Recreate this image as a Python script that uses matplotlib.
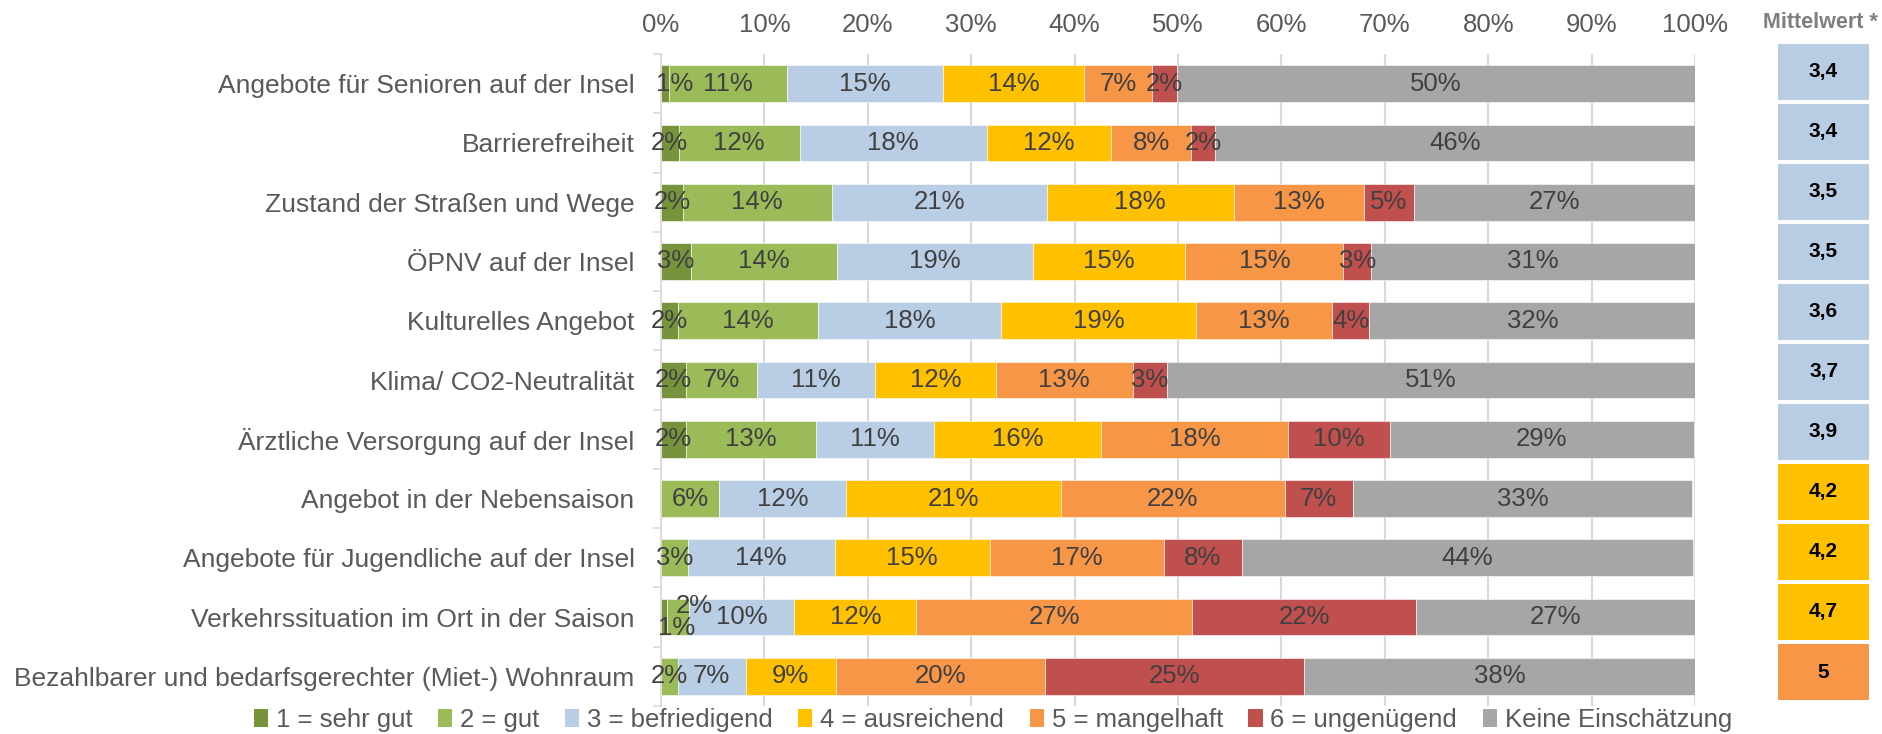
import numpy as np
from matplotlib import pyplot as plt
from matplotlib.patches import Patch

plt.rcParams['font.family'] = ['Liberation Sans', 'DejaVu Sans']

categories = [
    'Angebote für Senioren auf der Insel',
    'Barrierefreiheit',
    'Zustand der Straßen und Wege',
    'ÖPNV auf der Insel',
    'Kulturelles Angebot',
    'Klima/ CO2-Neutralität',
    'Ärztliche Versorgung auf der Insel',
    'Angebot in der Nebensaison',
    'Angebote für Jugendliche auf der Insel',
    'Verkehrssituation im Ort in der Saison',
    'Bezahlbarer und bedarfsgerechter (Miet-) Wohnraum',
]
series_names = ['1 = sehr gut', '2 = gut', '3 = befriedigend', '4 = ausreichend',
                '5 = mangelhaft', '6 = ungenügend', 'Keine Einschätzung']

# values in percent
sehr_gut     = [0.8, 1.7, 2.1, 2.9, 1.6, 2.4, 2.4, 0.0, 0.0, 0.6, 0.0]
gut          = [11.4, 11.7, 14.4, 14.1, 13.6, 6.9, 12.6, 5.6, 2.6, 2.1, 1.6]
befriedigend = [15.1, 18.1, 20.8, 19.0, 17.7, 11.4, 11.4, 12.3, 14.2, 10.2, 6.6]
ausreichend  = [13.6, 12.0, 18.1, 14.7, 18.8, 11.7, 16.2, 20.8, 15.0, 11.8, 8.7]
mangelhaft   = [6.6, 7.8, 12.6, 15.3, 13.2, 13.2, 18.0, 21.6, 16.8, 26.7, 20.2]
ungenuegend  = [2.4, 2.3, 4.8, 2.7, 3.6, 3.3, 9.9, 6.6, 7.6, 21.6, 25.1]
keine        = [50.1, 46.4, 27.2, 31.3, 31.6, 51.1, 29.4, 32.8, 43.6, 27.0, 37.9]

mittelwert = [3.4, 3.4, 3.5, 3.5, 3.6, 3.7, 3.9, 4.2, 4.2, 4.7, 5.0]

colors = ['#77933C', '#9BBB59', '#B9CDE5', '#FFC000', '#F79646', '#C0504D', '#A6A6A6']

W, H = 1883, 734
fig = plt.figure(figsize=(W / 100, H / 100), dpi=100)

ax = fig.add_axes([661 / W, 1 - 706 / H, (1695 - 661) / W, (706 - 54) / H])
series = [sehr_gut, gut, befriedigend, ausreichend, mangelhaft, ungenuegend, keine]
n = len(categories)
y = np.arange(n)
left = np.zeros(n)
for k, vals in enumerate(series):
    vals = np.array(vals)
    ax.barh(y, vals, left=left, height=0.62, color=colors[k], edgecolor='white',
            linewidth=0.4, zorder=2)
    for i in range(n):
        if vals[i] <= 0:
            continue
        dx, dy = 0, 0
        # Excel nudged a few tiny labels
        if i == 0 and k == 0:
            dx = 7
        if i == 9 and k == 0:
            dx, dy = 9, -8
        if i == 9 and k == 1:
            dx, dy = 12, 8
        ax.annotate('%.0f%%' % vals[i], (left[i] + vals[i] / 2, y[i]),
                    xytext=(dx, dy), textcoords='offset points',
                    ha='center', va='center', fontsize=18.5, color='#404040', zorder=3)
    left += vals

ax.set_xlim(0, 100)
ax.set_ylim(n - 0.5, -0.5)
ax.xaxis.tick_top()
ax.set_xticks(np.arange(0, 101, 10))
ax.set_xticklabels([f'{v}%' for v in range(0, 101, 10)])
ax.tick_params(axis='x', length=0, pad=12, labelsize=18.5, labelcolor='#595959')
ax.set_yticks(y)
ax.set_yticklabels(categories)
ax.tick_params(axis='y', length=0, pad=19, labelsize=19, labelcolor='#595959')
ax.set_yticks(np.arange(-0.5, n, 1), minor=True)
ax.tick_params(axis='y', which='minor', length=6, color='#d9d9d9', width=1.2)
ax.grid(axis='x', color='#d9d9d9', linewidth=1.5, zorder=0)
for s in ['top', 'right', 'bottom']:
    ax.spines[s].set_visible(False)
ax.spines['left'].set_color('#d9d9d9')
ax.spines['left'].set_linewidth(1.2)

# Mittelwert column
ax2 = fig.add_axes([1778 / W, 1 - 702 / H, (1869 - 1778) / W, 660 / H])
box_colors = []
for m in mittelwert:
    if m < 4:
        box_colors.append('#B8CCE4')
    elif m < 5:
        box_colors.append('#FFC000')
    else:
        box_colors.append('#F79646')
ax2.barh(y, [1] * n, height=0.94, color=box_colors)
for i in range(n):
    txt = ('%.1f' % mittelwert[i]).replace('.', ',')
    if mittelwert[i] == int(mittelwert[i]):
        txt = str(int(mittelwert[i]))
    ax2.text(0.5, y[i], txt, ha='center', va='center', fontsize=15,
             fontweight='bold', color='black')
ax2.set_xlim(0, 1)
ax2.set_ylim(n - 0.5, -0.5)
ax2.axis('off')
fig.text(1820 / W, 1 - 22 / H, 'Mittelwert *', ha='center', va='center', fontsize=15.5,
         fontweight='bold', color='#7f7f7f')

handles = [Patch(facecolor=c, edgecolor='none') for c in colors]
fig.legend(handles, series_names, loc='center', bbox_to_anchor=(993 / W, 1 - 720 / H),
           ncol=7, frameon=False, fontsize=18.5, labelcolor='#595959',
           handlelength=0.55, handleheight=0.7, handletextpad=0.3, columnspacing=1.0,
           borderpad=0, borderaxespad=0)

fig.savefig('out.png', dpi=100)
